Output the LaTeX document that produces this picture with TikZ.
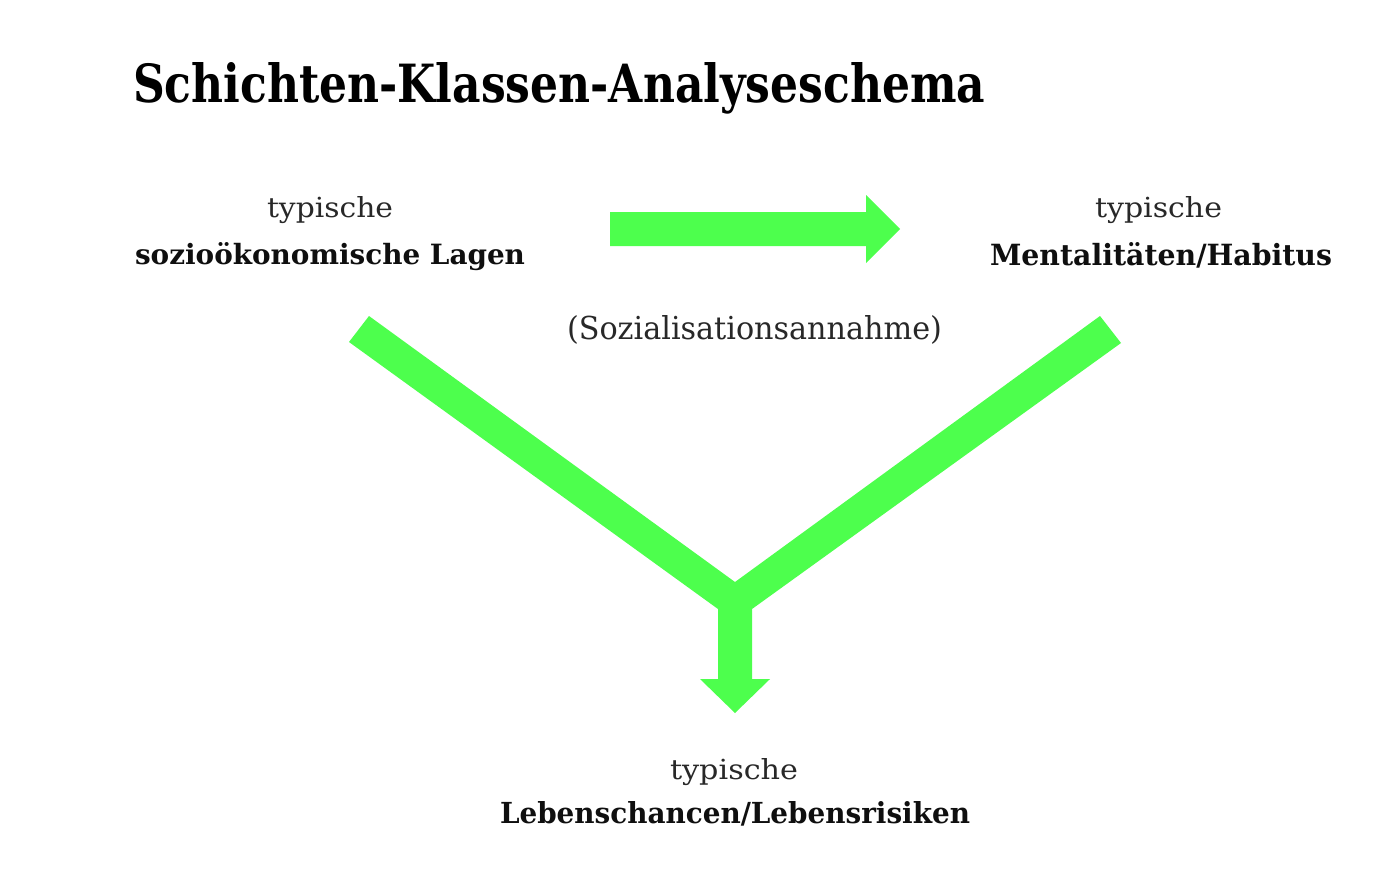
\documentclass[tikz,border=0pt]{standalone}
\usepackage{fontspec}
\setmainfont{DejaVu Serif}
\usepackage{graphicx}
\definecolor{arrowgreen}{RGB}{77,255,77}
\definecolor{textgray}{RGB}{40,40,40}
\definecolor{textblack}{RGB}{15,15,15}
\tikzset{
  txt/.style={inner sep=0pt, outer sep=0pt, anchor=base west},
  regular/.style={txt, text=textgray},
  strong/.style={txt, text=textblack, font=\bfseries},
  greenshape/.style={fill=arrowgreen, draw=none}
}
\newcommand{\fitbox}[3]{\resizebox{#1pt}{#2pt}{#3}}
\begin{document}
\begin{tikzpicture}[x=1pt,y=-1pt]
\useasboundingbox[fill=white] (0,0) rectangle (1375,871);
% title
\node[strong, text=black] (title) at (133,102) {\fitbox{852}{40}{Schichten-Klassen-Analyseschema}};
% left label
\node[regular] (t1) at (267,217) {\fitbox{126}{21}{typische}};
\node[strong] (l1) at (135,264) {\fitbox{390}{22}{sozioökonomische Lagen}};
% right label
\node[regular] (t2) at (1095,217) {\fitbox{127}{21}{typische}};
\node[strong] (l2) at (990,265) {\fitbox{342}{23}{Mentalitäten/Habitus}};
% middle label
\node[regular] (soz) at (567,339) {\fitbox{375}{24}{(Sozialisationsannahme)}};
% bottom label
\node[regular] (t3) at (670,779) {\fitbox{128}{21}{typische}};
\node[strong] (l3) at (500,823) {\fitbox{470}{22}{Lebenschancen/Lebensrisiken}};
% horizontal arrow
\coordinate (hs1) at (610,212);
\coordinate (hs2) at (866,212);
\coordinate (hh1) at (866,195);
\coordinate (htip) at (900,229);
\coordinate (hh2) at (866,263);
\coordinate (hs3) at (866,246);
\coordinate (hs4) at (610,246);
\fill[greenshape] (hs1) -- (hs2) -- (hh1) -- (htip) -- (hh2) -- (hs3) -- (hs4) -- cycle;
% Y-shaped arrow
\coordinate (la) at (349,342);
\coordinate (lb) at (369,316);
\coordinate (apex) at (735,582);
\coordinate (rb) at (1100,316);
\coordinate (ra) at (1121,343);
\coordinate (sr) at (752,609);
\coordinate (srh) at (752,679);
\coordinate (hr) at (770,679);
\coordinate (vtip) at (735,713);
\coordinate (hl) at (700,679);
\coordinate (slh) at (718,679);
\coordinate (sl) at (718,609);
\fill[greenshape] (la) -- (lb) -- (apex) -- (rb) -- (ra) -- (sr) -- (srh) -- (hr) -- (vtip) -- (hl) -- (slh) -- (sl) -- cycle;
\end{tikzpicture}
\end{document}
